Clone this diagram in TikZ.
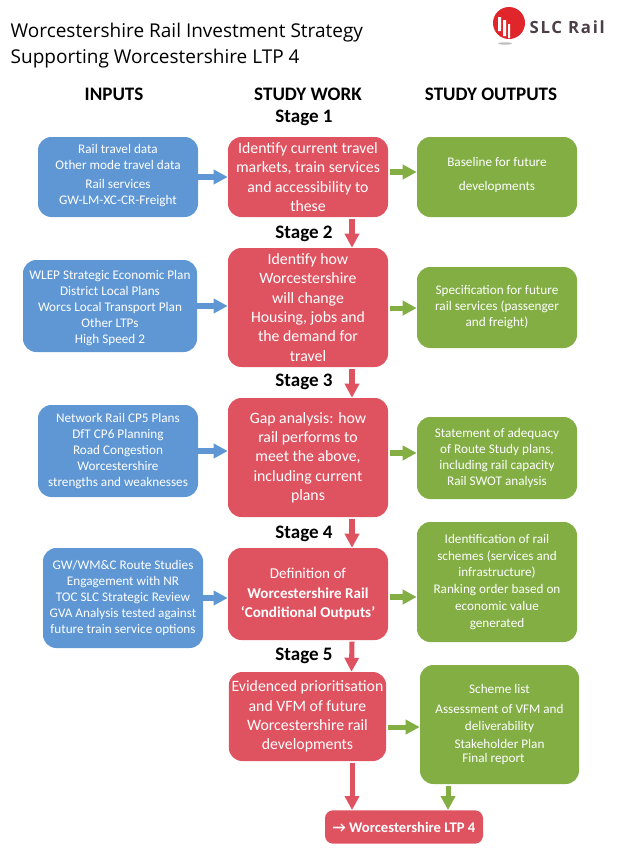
\documentclass[tikz,border=0pt]{standalone}
\usepackage{fontspec}
\setmainfont{Carlito}
\newfontfamily\titlefont{Open Sans}
\newfontfamily\logofont[LetterSpace=10]{Open Sans}
\usetikzlibrary{arrows.meta}
\usetikzlibrary{calc}
\definecolor{inblue}{HTML}{5F97D5}
\definecolor{studyred}{HTML}{DF5361}
\definecolor{outgreen}{HTML}{82AE44}
\definecolor{logored}{HTML}{E0262B}
\definecolor{logogrey}{HTML}{4C3F47}

\begin{document}
\begin{tikzpicture}[x=0.75pt,y=-0.75pt,
  box/.style={rounded corners=10pt,text=white,align=center,inner sep=0pt,font=\fontsize{9.9pt}{12pt}\selectfont},
  inbox/.style={box,fill=inblue},
  outbox/.style={box,fill=outgreen},
  workbox/.style={box,fill=studyred,font=\fontsize{11.85pt}{14.5pt}\selectfont},
  heading/.style={font=\fontsize{14.3pt}{16pt}\selectfont\bfseries},
  redarrow/.style={draw=studyred,line width=3.8pt,-{Triangle[length=10.5pt,width=10.5pt]},shorten <=1pt},
  bluearrow/.style={draw=inblue,line width=3.8pt,-{Triangle[length=10.5pt,width=10.5pt]}},
  greenarrow/.style={draw=outgreen,line width=3.8pt,-{Triangle[length=10.5pt,width=10.5pt]},shorten <=1pt}]
  \useasboundingbox (0,0) rectangle (632,850);

  % Title
  \node[anchor=west,font=\titlefont\fontsize{14.25pt}{17pt}\selectfont] (title1) at (6,33) {Worcestershire Rail Investment Strategy};
  \node[anchor=west,font=\titlefont\fontsize{14.25pt}{17pt}\selectfont] (title2) at (6,59) {Supporting Worcestershire LTP 4};

  % Logo
  \fill[black!25] (505,43.5) ellipse (7 and 1.2);
  \fill[logored] (509,23) circle (16);
  \fill[white] (498,17) rectangle (501,31) (503,20) rectangle (506,36) (508,24) rectangle (510,38);
  \node[anchor=west,text=logogrey,font=\logofont\fontsize{12.6pt}{15pt}\selectfont\bfseries] (logo) at (525,27) {SLC Rail};

  % Headings
  \node[heading] (inputs) at (114,94) {INPUTS};
  \node[heading] (work) at (308,94) {STUDY WORK};
  \node[heading] (outputs) at (491,94) {STUDY OUTPUTS};
  \node[heading] (stage1) at (304,118) {Stage 1};
  \node[heading] (stage2) at (304,234) {Stage 2};
  \node[heading] (stage3) at (304,382) {Stage 3};
  \node[heading] (stage4) at (304,534) {Stage 4};
  \node[heading] (stage5) at (304,656) {Stage 5};

  % Inputs
  \node[inbox,minimum width=120pt,minimum height=60pt] (in1) at (118,177) {Rail travel data\\Other mode travel data\\[2.25pt]Rail services\\GW-LM-XC-CR-Freight\\[-7.5pt]\mbox{}};
  \node[inbox,minimum width=130.5pt,minimum height=69pt] (in2) at (110,306) {\mbox{}\\[-2pt]WLEP Strategic Economic Plan\\District Local Plans\\Worcs Local Transport Plan\\Other LTPs\\High Speed 2};
  \node[inbox,minimum width=120pt,minimum height=69pt] (in3) at (118,451) {Network Rail CP5 Plans\\DfT CP6 Planning\\Road Congestion\\Worcestershire\\strengths and weaknesses};
  \node[inbox,minimum width=120pt,minimum height=75pt] (in4) at (123,598) {GW/WM\&C Route Studies\\Engagement with NR\\TOC SLC Strategic Review\\GVA Analysis tested against\\future train service options};

  % Study work
  \node[workbox,minimum width=120pt,minimum height=60pt] (work1) at (308,177) {Identify current travel\\markets, train services\\and accessibility to\\these};
  \node[workbox,minimum width=120pt,minimum height=89.25pt] (work2) at (308,307.5) {Identify how\\Worcestershire\\will change\\Housing, jobs and\\the demand for\\travel};
  \node[workbox,minimum width=120pt,minimum height=89.25pt] (work3) at (308,457.5) {Gap analysis: how\\rail performs to\\meet the above,\\including current\\plans};
  \node[workbox,minimum width=120pt,minimum height=69pt,font=\fontsize{11.3pt}{14.4pt}\selectfont] (work4) at (308,594) {Definition of\\\textbf{Worcestershire Rail}\\\textbf{`Conditional Outputs'}};
  \node[workbox,minimum width=118pt,minimum height=66.75pt] (work5) at (307.5,716.5) {Evidenced prioritisation\\and VFM of future\\Worcestershire rail\\developments};

  % Study outputs
  \node[outbox,minimum width=120pt,minimum height=60pt] (out1) at (497,177) {Baseline for future\\[6pt]developments\\[-7.5pt]\mbox{}};
  \node[outbox,minimum width=120pt,minimum height=60.75pt] (out2) at (497,307.5) {Specification for future\\rail services (passenger\\and freight)};
  \node[outbox,minimum width=120pt,minimum height=61.5pt] (out3) at (497,458) {Statement of adequacy\\of Route Study plans,\\including rail capacity\\Rail SWOT analysis};
  \node[outbox,minimum width=120pt,minimum height=90pt,font=\fontsize{9.9pt}{12.7pt}\selectfont] (out4) at (497,582) {Identification of rail\\schemes (services and\\infrastructure)\\Ranking order based on\\economic value\\generated};
  \node[outbox,minimum width=119.25pt,minimum height=89.25pt] (out5) at (499.5,724.5) {Scheme list\\[3pt]Assessment of VFM and\\[.75pt]deliverability\\[1.5pt]Stakeholder Plan\hspace*{9pt}\\[-1.5pt]Final report\hspace*{9pt}};

  % Final
  \node[box,fill=studyred,minimum width=118.5pt,minimum height=25pt,rounded corners=6pt,font=\fontsize{11pt}{13pt}\selectfont\bfseries] (final) at (404,827) {→ Worcestershire LTP 4};

  % Arrows across
  \foreach \n in {1,2,3,4} {
    \draw[bluearrow] (in\n.east) -- (in\n.east -| work\n.west);
  }
  \foreach \n/\dy in {1/3.75,2/-0.4,3/3.4,4/-2.25,5/-7.9} {
    \draw[greenarrow] ([yshift=\dy pt]work\n.east) -- ([yshift=\dy pt]work\n.east -| out\n.west);
  }

  % Arrows down
  \foreach \a/\b in {work1/work2,work2/work3,work3/work4,work4/work5} {
    \draw[redarrow] ([xshift=33pt]\a.south) -- ([xshift=33pt]\b.north);
  }
  \draw[redarrow] ([xshift=33.4pt]work5.south) -- ([xshift=33.4pt]work5.south |- final.north);
  \draw[greenarrow] ([xshift=-38.6pt]out5.south) -- ([xshift=-38.6pt]out5.south |- final.north);

\end{tikzpicture}
\end{document}
